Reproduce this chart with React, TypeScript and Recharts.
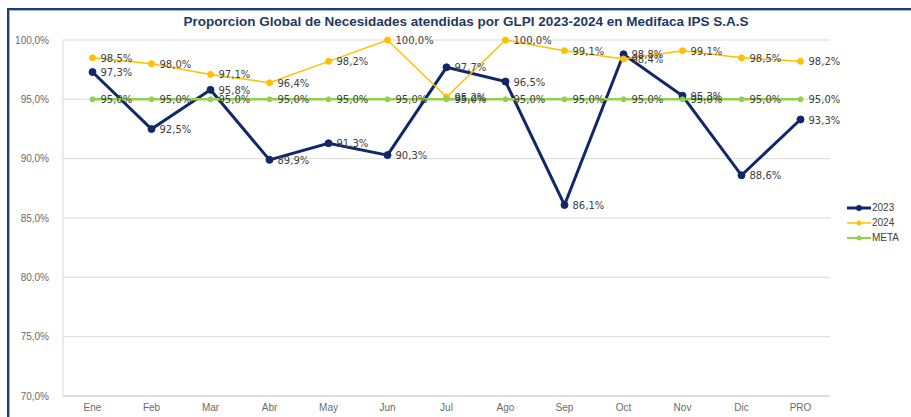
import React from "react";
import { LineChart, Line, XAxis, YAxis, CartesianGrid, LabelList } from "recharts";

const months = ["Ene", "Feb", "Mar", "Abr", "May", "Jun", "Jul", "Ago", "Sep", "Oct", "Nov", "Dic", "PRO"];
const values2023 = [97.3, 92.5, 95.8, 89.9, 91.3, 90.3, 97.7, 96.5, 86.1, 98.8, 95.3, 88.6, 93.3];
const values2024 = [98.5, 98.0, 97.1, 96.4, 98.2, 100.0, 95.2, 100.0, 99.1, 98.4, 99.1, 98.5, 98.2];
const valuesMeta = [95, 95, 95, 95, 95, 95, 95, 95, 95, 95, 95, 95, 95];
const yTicks = [70, 75, 80, 85, 90, 95, 100];

const data = months.map((m, i) => ({
  mes: m,
  y2023: values2023[i],
  y2024: values2024[i],
  meta: valuesMeta[i],
}));

const fmt = (v: number) => v.toFixed(1).replace(".", ",") + "%";

const C2023 = "#12276A";
const C2024 = "#FFC000";
const CMETA = "#92D050";

const renderLabel = (props: any) => {
  const { x, y, value } = props;
  return (
    <text x={x + 8} y={y + 4} fontFamily="DejaVu Sans" fontSize={10} fill="#404040">
      {fmt(value)}
    </text>
  );
};

const legendItems = [
  { name: "2023", color: C2023, w: 3, r: 3 },
  { name: "2024", color: C2024, w: 1.5, r: 2.5 },
  { name: "META", color: CMETA, w: 2, r: 2.5 },
];

export default function App() {
  return (
    <div style={{ position: "absolute", left: 0, top: 0, width: 911, height: 417, background: "#fff", overflow: "hidden" }}>
      <div
        style={{
          position: "absolute",
          left: 7,
          top: 8,
          width: 920,
          height: 430,
          border: "2px solid #1F3A78",
          boxShadow: "inset 0 0 0 1px #9DB3E0",
          boxSizing: "border-box",
        }}
      />
      <div
        style={{
          position: "absolute",
          left: 0,
          top: 14,
          width: 932,
          textAlign: "center",
          fontFamily: "Liberation Sans",
          fontWeight: "bold",
          fontSize: 13.5,
          color: "#1F3864",
        }}
      >
        Proporcion Global de Necesidades atendidas por GLPI 2023-2024 en Medifaca IPS S.A.S
      </div>
      <LineChart
        width={911}
        height={417}
        data={data}
        margin={{ top: 40, right: 81, bottom: 0, left: 0 }}
        style={{ position: "absolute", left: 0, top: 0 }}
      >
        <CartesianGrid vertical={false} stroke="#D9D9D9" />
        <XAxis
          dataKey="mes"
          height={21}
          padding={{ left: 29.5, right: 29.5 }}
          axisLine={{ stroke: "#D0D0D0" }}
          tickLine={false}
          tick={{ fontFamily: "Liberation Sans", fontSize: 10, fill: "#6A6A6A" }}
          tickMargin={2}
          interval={0}
        />
        <YAxis
          width={63}
          domain={[70, 100]}
          ticks={yTicks}
          tickFormatter={fmt}
          axisLine={{ stroke: "#D9D9D9" }}
          tickLine={false}
          tick={{ fontFamily: "Liberation Sans", fontSize: 10, fill: "#6A6A6A" }}
          tickMargin={8}
        />
        <Line
          dataKey="y2023"
          name="2023"
          stroke={C2023}
          strokeWidth={3}
          dot={{ r: 3.5, fill: C2023, stroke: C2023, strokeWidth: 1 }}
          isAnimationActive={false}
        >
          <LabelList dataKey="y2023" content={renderLabel} />
        </Line>
        <Line
          dataKey="y2024"
          name="2024"
          stroke={C2024}
          strokeWidth={1.5}
          dot={{ r: 3, fill: C2024, stroke: C2024, strokeWidth: 1 }}
          isAnimationActive={false}
        >
          <LabelList dataKey="y2024" content={renderLabel} />
        </Line>
        <Line
          dataKey="meta"
          name="META"
          stroke={CMETA}
          strokeWidth={2.5}
          dot={{ r: 2.5, fill: CMETA, stroke: CMETA, strokeWidth: 1 }}
          isAnimationActive={false}
        >
          <LabelList dataKey="meta" content={renderLabel} />
        </Line>
      </LineChart>
      <div
        style={{
          position: "absolute",
          left: 847,
          top: 200,
          fontFamily: "Liberation Sans",
          fontSize: 10,
          color: "#404040",
        }}
      >
        {legendItems.map((it) => (
          <div key={it.name} style={{ display: "flex", alignItems: "center", height: 15 }}>
            <svg width={24} height={10}>
              <line x1={0} y1={5} x2={24} y2={5} stroke={it.color} strokeWidth={it.w} />
              <circle cx={12} cy={5} r={it.r} fill={it.color} />
            </svg>
            <span style={{ marginLeft: 1 }}>{it.name}</span>
          </div>
        ))}
      </div>
    </div>
  );
}
